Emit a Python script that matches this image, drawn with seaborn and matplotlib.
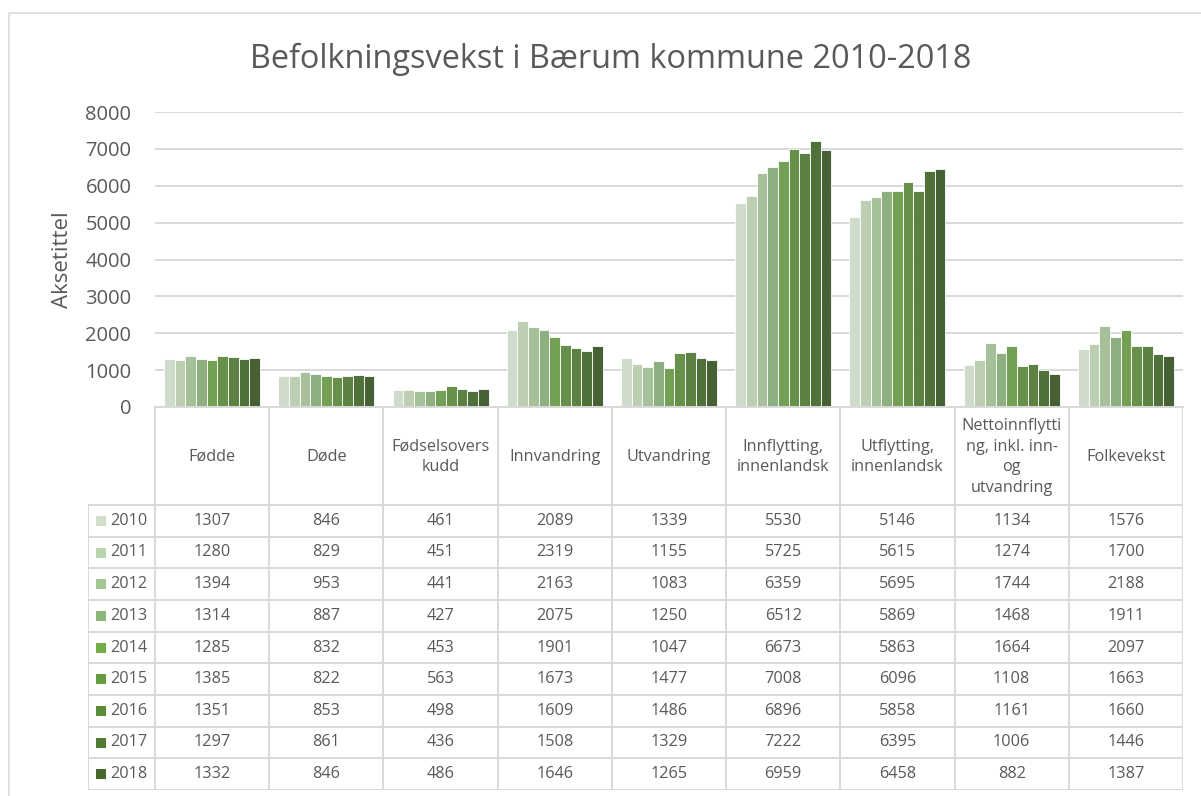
import matplotlib
matplotlib.use("Agg")
import matplotlib.pyplot as plt
import seaborn as sns
import pandas as pd
from matplotlib.patches import Rectangle
from matplotlib.lines import Line2D

categories = ["Fødde", "Døde", "Fødselsovers\nkudd", "Innvandring", "Utvandring",
              "Innflytting,\ninnenlandsk", "Utflytting,\ninnenlandsk",
              "Nettoinnflytti\nng, inkl. inn-\nog\nutvandring", "Folkevekst"]
years = ["2010", "2011", "2012", "2013", "2014", "2015", "2016", "2017", "2018"]
v2010 = [1307, 846, 461, 2089, 1339, 5530, 5146, 1134, 1576]
v2011 = [1280, 829, 451, 2319, 1155, 5725, 5615, 1274, 1700]
v2012 = [1394, 953, 441, 2163, 1083, 6359, 5695, 1744, 2188]
v2013 = [1314, 887, 427, 2075, 1250, 6512, 5869, 1468, 1911]
v2014 = [1285, 832, 453, 1901, 1047, 6673, 5863, 1664, 2097]
v2015 = [1385, 822, 563, 1673, 1477, 7008, 6096, 1108, 1663]
v2016 = [1351, 853, 498, 1609, 1486, 6896, 5858, 1161, 1660]
v2017 = [1297, 861, 436, 1508, 1329, 7222, 6395, 1006, 1446]
v2018 = [1332, 846, 486, 1646, 1265, 6959, 6458, 882, 1387]
series = [v2010, v2011, v2012, v2013, v2014, v2015, v2016, v2017, v2018]
colors = ["#cfdfc8", "#bad4ae", "#a3c793", "#8bb878", "#70ad47",
          "#659c40", "#5a8b39", "#4f7a32", "#44692b"]
title = "Befolkningsvekst i Bærum kommune 2010-2018"
ylabel = "Aksetittel"
yticks = [0, 1000, 2000, 3000, 4000, 5000, 6000, 7000, 8000]

rows = []
for y, vals in zip(years, series):
    for c, v in zip(categories, vals):
        rows.append({"cat": c, "year": y, "val": v})
df = pd.DataFrame(rows)

sns.set_theme(style="white")
FONT = ["Open Sans", "DejaVu Sans"]
plt.rcParams["font.family"] = FONT
TXT = "#595959"
GRID = "#d9d9d9"

W, H = 1201, 796
fig = plt.figure(figsize=(W / 100, H / 100), dpi=100)

# outer chart frame
fig.add_artist(Rectangle((9 / W, -0.05), 1.2, 1 - 13 / H + 0.05, transform=fig.transFigure,
                         fill=False, edgecolor=GRID, linewidth=1.2))

L, R, T, B = 155, 1183, 112, 407
ax = fig.add_axes([L / W, 1 - B / H, (R - L) / W, (B - T) / H])
sns.barplot(data=df, x="cat", y="val", hue="year", order=categories, hue_order=years,
            palette=colors, width=0.84, edgecolor="white", linewidth=0.6,
            ax=ax, legend=False, errorbar=None)
ax.set_xlim(-0.5, len(categories) - 0.5)
ax.set_ylim(0, 8000)
ax.set_yticks(yticks)
ax.set_yticklabels([str(t) for t in yticks], fontsize=14.5, color=TXT)
ax.tick_params(axis="y", length=0, pad=17)
ax.tick_params(axis="x", length=0, labelbottom=False)
ax.set_xlabel("")
ax.set_ylabel(ylabel, fontsize=16, color=TXT, labelpad=9)
ax.yaxis.grid(True, color=GRID, linewidth=1.4)
ax.set_axisbelow(True)
for s in ["top", "right", "left"]:
    ax.spines[s].set_visible(False)
ax.spines["bottom"].set_color(GRID)
ax.spines["bottom"].set_linewidth(1.4)

fig.text(611 / W, 1 - 59 / H, title, ha="center", va="center",
         fontsize=23.4, color=TXT)

# data table
TL, TB = 88, 790
tax = fig.add_axes([TL / W, 1 - TB / H, (R - TL) / W, (TB - B) / H])
tax.set_xlim(TL, R)
tax.set_ylim(TB, B)
tax.axis("off")
cw = (R - L) / len(categories)
hdr_bottom = 505
rh = (TB - hdr_bottom) / len(years)
lk = dict(color=GRID, linewidth=1.4, solid_capstyle="butt")
for i in range(len(categories) + 1):
    x = L + i * cw
    tax.add_line(Line2D([x, x], [B, TB], **lk))
tax.add_line(Line2D([TL, TL], [hdr_bottom, TB], **lk))
for j in range(len(years) + 1):
    y = hdr_bottom + j * rh
    tax.add_line(Line2D([TL, R], [y, y], **lk))
for i, c in enumerate(categories):
    tax.text(L + (i + 0.5) * cw, (B + hdr_bottom) / 2 + 1, c, ha="center", va="center",
             fontsize=11.7, color=TXT, linespacing=1.4)
for j, (y, vals) in enumerate(zip(years, series)):
    yc = hdr_bottom + (j + 0.5) * rh
    tax.add_patch(Rectangle((96, yc - 5), 10, 10, facecolor=colors[j], edgecolor="none"))
    tax.text(110, yc, y, ha="left", va="center", fontsize=11.7, color=TXT)
    for i, v in enumerate(vals):
        tax.text(L + (i + 0.5) * cw, yc, str(v), ha="center", va="center",
                 fontsize=11.7, color=TXT)

fig.savefig("out.png", dpi=100, facecolor="white")
